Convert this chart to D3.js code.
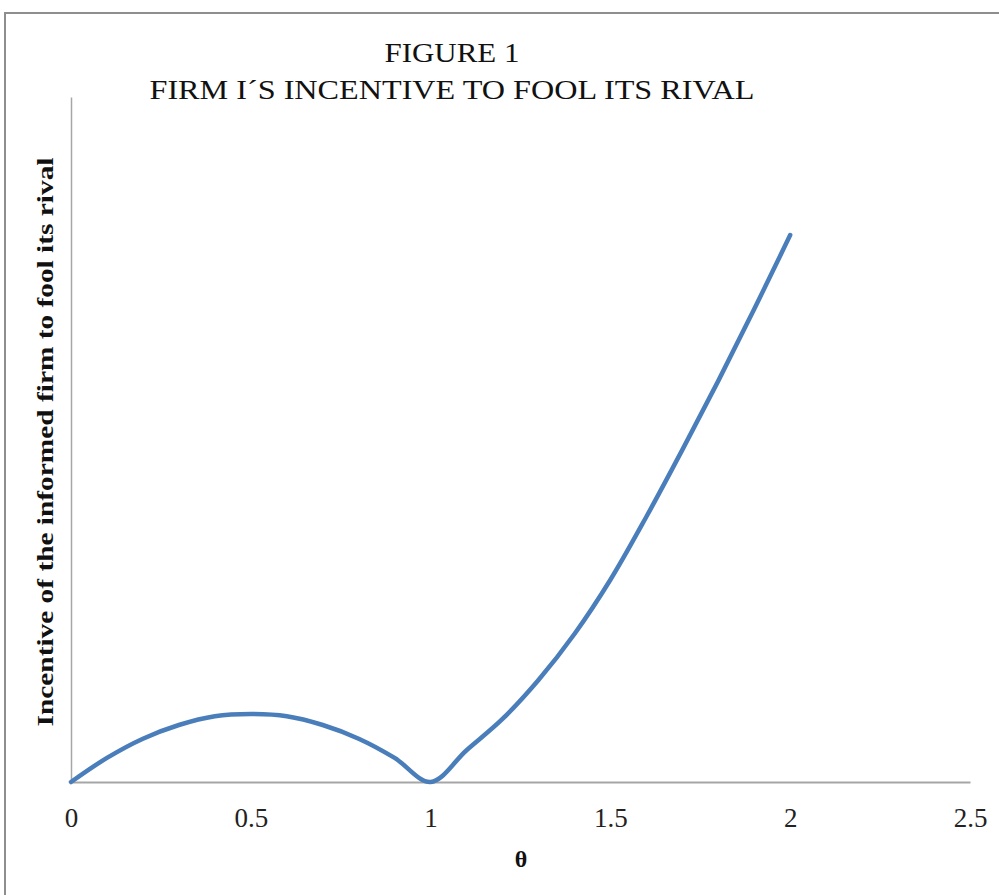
<!DOCTYPE html>
<html>
<head>
<meta charset="utf-8">
<script src="https://cdn.jsdelivr.net/npm/d3@7/dist/d3.min.js"></script>
<style>
  html, body { margin: 0; padding: 0; background: #fff; }
  svg { display: block; }
</style>
</head>
<body>
<svg id="chart" width="999" height="895"></svg>
<script>
// ---- data ----
const thetaValues = [0, 0.1, 0.2, 0.3, 0.4, 0.5, 0.6, 0.7, 0.8, 0.9, 1.0,
                     1.1, 1.2, 1.3, 1.4, 1.5, 1.6, 1.7, 1.8, 1.9, 2.0];
const incentiveValues = [0, 0.044, 0.079, 0.104, 0.120, 0.124, 0.120, 0.104, 0.079, 0.044, 0,
                         0.058, 0.115, 0.186, 0.270, 0.369, 0.484, 0.606, 0.732, 0.863, 0.998];
const xTicks = [0, 0.5, 1, 1.5, 2, 2.5];
const xTickLabels = ["0", "0.5", "1", "1.5", "2", "2.5"];
const titleLines = ["FIGURE 1", "FIRM I\u00B4S INCENTIVE TO FOOL ITS RIVAL"];
const xTitle = "\u03B8";
const yTitle = "Incentive of the informed firm to fool its rival";

// ---- layout ----
const svg = d3.select("#chart");
const plot = { left: 71, right: 970, top: 97, bottom: 782 };

const x = d3.scaleLinear().domain([0, 2.5]).range([plot.left, plot.right]);
const y = d3.scaleLinear().domain([0, 1.25]).range([plot.bottom, plot.top]);

// outer border
svg.append("rect")
  .attr("x", 5).attr("y", 13)
  .attr("width", 1100).attr("height", 1000)
  .attr("fill", "none")
  .attr("stroke", "#8e8e8e")
  .attr("stroke-width", 2);

// title
const titleFont = "'Liberation Serif', 'Times New Roman', serif";
svg.append("text")
  .attr("x", 452).attr("y", 62)
  .attr("text-anchor", "middle")
  .attr("font-family", titleFont)
  .attr("font-size", 27)
  .attr("fill", "#111")
  .attr("textLength", 135).attr("lengthAdjust", "spacingAndGlyphs")
  .text(titleLines[0]);
svg.append("text")
  .attr("x", 452).attr("y", 99)
  .attr("text-anchor", "middle")
  .attr("font-family", titleFont)
  .attr("font-size", 27)
  .attr("fill", "#111")
  .attr("textLength", 605).attr("lengthAdjust", "spacingAndGlyphs")
  .text(titleLines[1]);

// y axis line
const yAxis = d3.axisLeft(y).tickValues([]).tickSize(0);
const gy = svg.append("g").attr("transform", `translate(${plot.left},0)`).call(yAxis);
gy.select(".domain").attr("stroke", "#a6a6a6").attr("stroke-width", 1.5);

// x axis
const xAxis = d3.axisBottom(x).tickValues(xTicks).tickSize(0).tickPadding(0)
  .tickFormat((d, i) => xTickLabels[i]);
const gx = svg.append("g").attr("transform", `translate(0,${plot.bottom})`).call(xAxis);
gx.select(".domain").attr("stroke", "#a6a6a6").attr("stroke-width", 2);
gx.selectAll(".tick text")
  .attr("dy", 0).attr("y", 45)
  .attr("font-family", titleFont)
  .attr("font-size", 27)
  .attr("fill", "#222");

// line
const line = d3.line()
  .x((d, i) => x(thetaValues[i]))
  .y(d => y(d))
  .curve(d3.curveCatmullRom.alpha(0.5));
svg.append("path")
  .datum(incentiveValues)
  .attr("d", line)
  .attr("fill", "none")
  .attr("stroke", "#4a7ebb")
  .attr("stroke-width", 4.5)
  .attr("stroke-linecap", "round")
  .attr("stroke-linejoin", "round");

// axis titles
svg.append("text")
  .attr("x", 521).attr("y", 867)
  .attr("text-anchor", "middle")
  .attr("font-family", titleFont)
  .attr("font-weight", "bold")
  .attr("font-size", 24)
  .attr("fill", "#111")
  .text(xTitle);

svg.append("text")
  .attr("transform", "translate(53,442) rotate(-90)")
  .attr("text-anchor", "middle")
  .attr("font-family", titleFont)
  .attr("font-weight", "bold")
  .attr("font-size", 23)
  .attr("fill", "#111")
  .attr("textLength", 569).attr("lengthAdjust", "spacingAndGlyphs")
  .text(yTitle);
</script>
</body>
</html>
